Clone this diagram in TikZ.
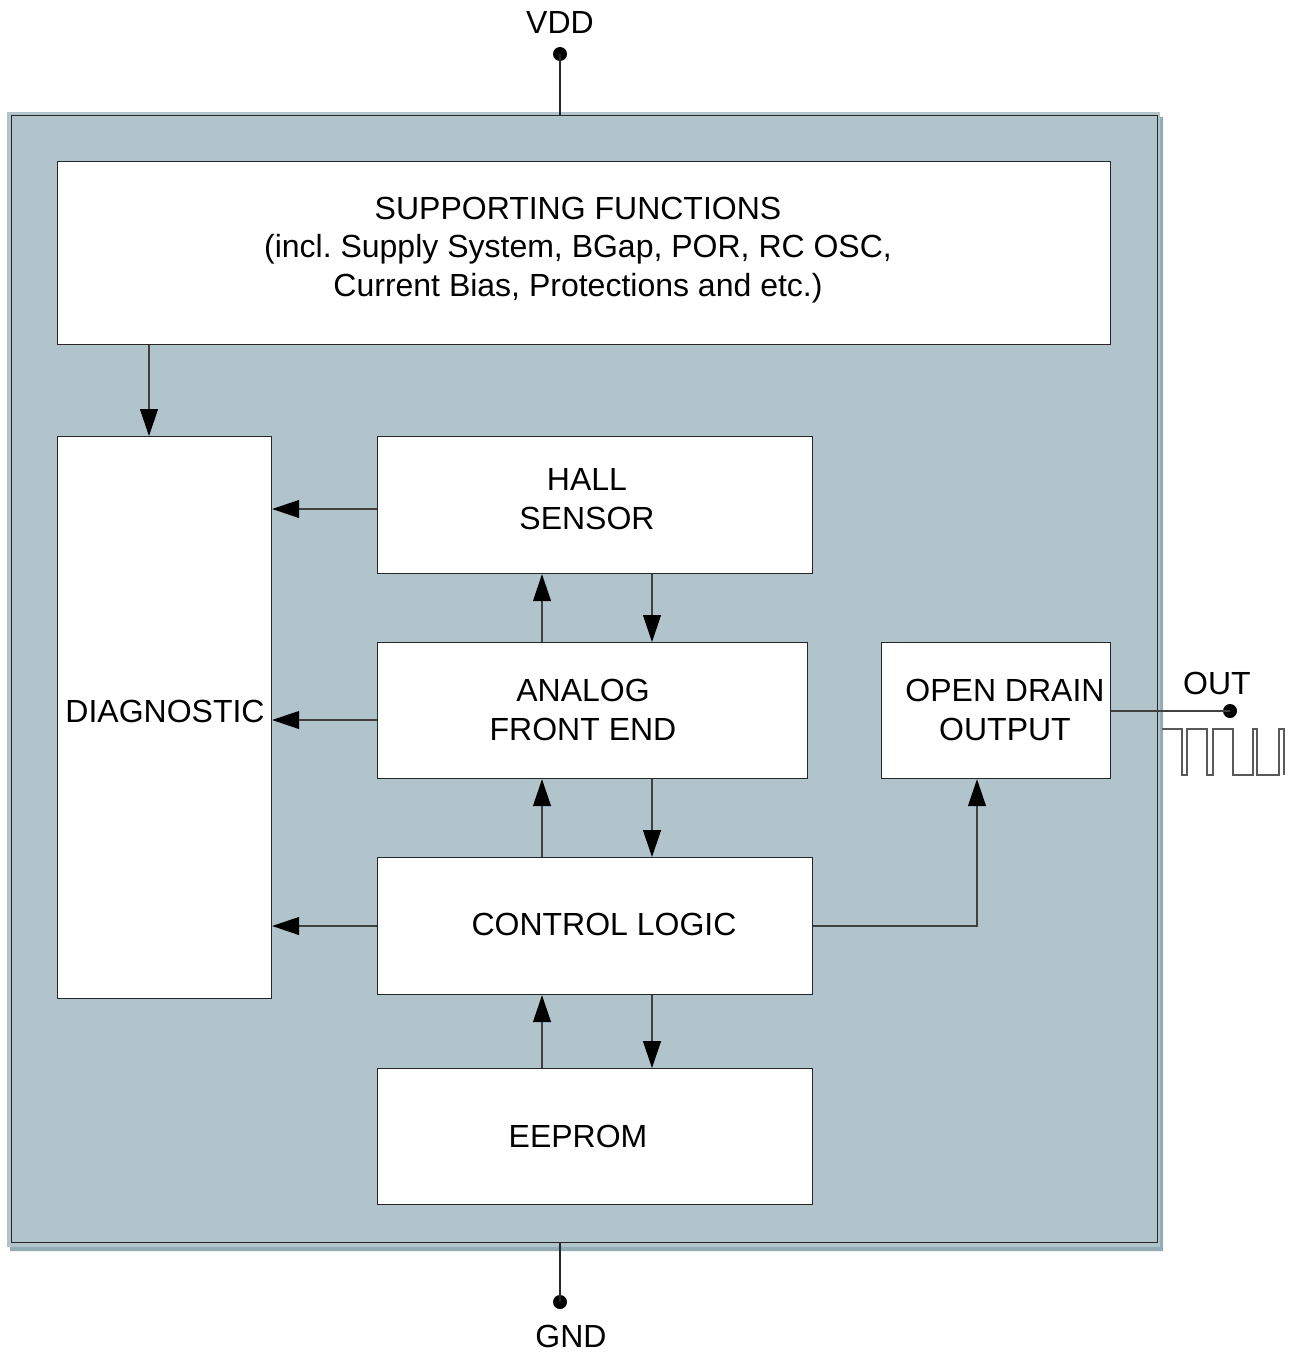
\documentclass[tikz,border=0pt]{standalone}
\usepackage{fontspec}
\setmainfont{Liberation Sans}
\usetikzlibrary{arrows.meta}
\definecolor{chipfill}{HTML}{B1C4CB}
\definecolor{chipshadow}{HTML}{94ADB5}
\begin{document}
\begin{tikzpicture}[x=1pt,y=-1pt,
  blk/.style={draw=black!85, fill=white, line width=1.2pt, inner sep=0pt, anchor=north west},
  txt/.style={font=\fontsize{32}{38.5}\selectfont, align=center, inner sep=0pt},
  conn/.style={draw=black!75, line width=1.2pt, -{Triangle[length=27pt,width=18pt,color=black]}},
  wire/.style={draw=black!85, line width=1.2pt},
  pin/.style={circle, fill=black, inner sep=0pt, minimum size=14pt}]
\useasboundingbox (0,0) rectangle (1295,1354);
% chip body
\fill[chipfill] (7,112) rectangle (1160,1247);
\fill[chipshadow] (1160,117) -- (1163,117) -- (1163,1251) -- (10,1251) -- (10,1247) -- (1160,1247) -- cycle;
\node[draw=black!85, line width=1.3pt, minimum width=1146pt, minimum height=1127pt, inner sep=0pt, anchor=north west] (chip) at (10.5,115) {};
% blocks
\node[blk, minimum width=1053pt, minimum height=183pt] (sup) at (57,161) {};
\node[blk, minimum width=214pt, minimum height=562pt] (diag) at (57,436) {};
\node[blk, minimum width=435pt, minimum height=137pt] (hall) at (377,436) {};
\node[blk, minimum width=430pt, minimum height=136pt] (afe) at (377,642) {};
\node[blk, minimum width=435pt, minimum height=137pt] (ctrl) at (377,857) {};
\node[blk, minimum width=435pt, minimum height=136pt] (eep) at (377,1068) {};
\node[blk, minimum width=229pt, minimum height=136pt] (odo) at (881,642) {};
% texts
\node[txt] (suptxt) at (578,250) {SUPPORTING FUNCTIONS\\(incl.\ Supply System, BGap, POR, RC OSC,\\Current Bias, Protections and etc.)};
\node[txt] (diagtxt) at (165,711) {DIAGNOSTIC};
\node[txt] (halltxt) at (587,499) {HALL\\SENSOR};
\node[txt] (afetxt) at (583,710) {ANALOG\\FRONT END};
\node[txt] (ctrltxt) at (604,924) {CONTROL LOGIC};
\node[txt] (eeptxt) at (578,1136) {EEPROM};
\node[txt] (odotxt) at (1005,710) {OPEN DRAIN\\OUTPUT};
% pins
\node[pin] (vdd) at (560,54) {};
\node[txt] (vddtxt) at (560,22) {VDD};
\node[pin] (gnd) at (560,1302) {};
\node[txt] (gndtxt) at (571,1336) {GND};
\node[pin] (out) at (1230,711) {};
\node[txt] (outtxt) at (1217,683) {OUT};
\draw[wire] (vdd.center) -- (vdd |- chip.north);
\draw[wire] (gnd.center) -- (gnd |- chip.south);
\draw[wire, draw=black!75] (odo.east |- out) -- (out.center);
% connectors
\draw[conn] (sup.south -| 149,0) -- (diag.north -| 149,0);
\draw[conn] (hall.west |- 0,509) -- (diag.east |- 0,509);
\draw[conn] (afe.west |- 0,720) -- (diag.east |- 0,720);
\draw[conn] (ctrl.west |- 0,926) -- (diag.east |- 0,926);
\draw[conn] (afe.north -| 542,0) -- (hall.south -| 542,0);
\draw[conn] (hall.south -| 652,0) -- (afe.north -| 652,0);
\draw[conn] (ctrl.north -| 542,0) -- (afe.south -| 542,0);
\draw[conn] (afe.south -| 652,0) -- (ctrl.north -| 652,0);
\draw[conn] (eep.north -| 542,0) -- (ctrl.south -| 542,0);
\draw[conn] (ctrl.south -| 652,0) -- (eep.north -| 652,0);
\draw[conn] (ctrl.east |- 0,926) -| (odo.south -| 977,0);
% output waveform
\draw[draw=black!65, line width=1.2pt] (1162,729) -- (1182,729) -- (1182,775) -- (1187,775) -- (1187,729)
  -- (1207,729) -- (1207,775) -- (1213,775) -- (1213,729) -- (1233,729) -- (1233,775) -- (1253,775)
  -- (1253,729) -- (1257,729) -- (1257,775) -- (1279,775) -- (1279,729) -- (1284,729) -- (1284,775);
\end{tikzpicture}
\end{document}
